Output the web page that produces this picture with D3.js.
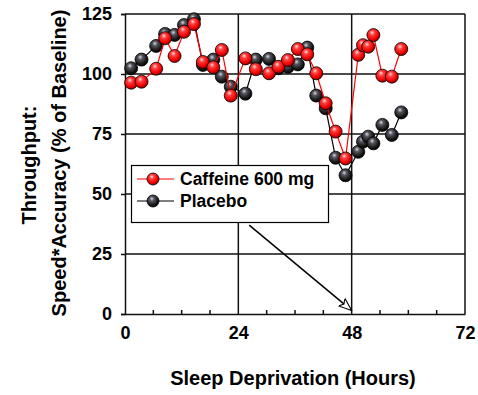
<!DOCTYPE html>
<html>
<head>
<meta charset="utf-8">
<script src="https://cdnjs.cloudflare.com/ajax/libs/d3/7.8.5/d3.min.js"></script>
<style>
  body { margin: 0; background: #fff; }
  svg text { font-family: "Liberation Sans", Arial, sans-serif; font-weight: bold; fill: #000; }
</style>
</head>
<body>
<svg id="chart" width="478" height="395"></svg>
<script>
// hours of sleep deprivation at each test session
const hours = [1.3, 3.5, 6.6, 8.5, 10.5, 12.5, 14.6, 16.5, 18.7, 20.5, 22.4,
  25.5, 27.7, 30.5, 32.5, 34.5, 36.6, 38.6, 40.5, 42.5, 44.6, 46.7,
  49.4, 50.4, 51.5, 52.6, 54.5, 56.5, 58.5];
const caffeine = [96.4, 96.8, 102.2, 114.9, 107.5, 117.6, 120.8, 105, 102.8, 110, 91,
  106.5, 102, 100.3, 103, 105.8, 110.4, 108.2, 100.3, 87.8, 76, 64.8,
  108, 112, 111.4, 116.2, 99.3, 98.9, 110.4];
const placebo = [102.4, 106, 111.7, 116.7, 116.3, 120.4, 122.8, 103.8, 106, 98.9, 94.7,
  91.8, 106, 106.3, 102.4, 103, 104, 111, 91, 85.7, 65.1, 57.8,
  67.6, 71.8, 73.9, 71.1, 78.8, 74.6, 84];
const seriesNames = ['Caffeine 600 mg', 'Placebo'];
const xTicks = [0, 24, 48, 72];
const xMinorTicks = [6, 12, 18, 30, 36, 42, 54, 60, 66];
const yTicks = [0, 25, 50, 75, 100, 125];
const xTitle = 'Sleep Deprivation (Hours)';
const yTitle = ['Throughput:', 'Speed*Accuracy (% of Baseline)'];
const arrowFrom = [26.3, 37];
const arrowTo = [48, 1.5];

const ThroughputChart = class {
  static X_RANGE = [125, 465];
  static Y_RANGE = [314, 14];

  constructor(id) {
    this.svg = d3.select(`#${id}`);
    this.x = d3.scaleLinear().domain([0, 72]).range(this.constructor.X_RANGE);
    this.y = d3.scaleLinear().domain([0, 125]).range(this.constructor.Y_RANGE);
  }

  drawDefs() {
    const defs = this.svg.append('defs');
    const balls = [
      {id: 'ball-red', stops: ['#ffe0e0', '#ff4040', '#f00000', '#900000']},
      {id: 'ball-black', stops: ['#d8d8e8', '#55555e', '#1a1a1a', '#000000']},
    ];
    balls.forEach((ball) => {
      const g = defs.append('radialGradient')
        .attr('id', ball.id)
        .attr('cx', '42%').attr('cy', '38%').attr('r', '62%')
        .attr('fx', '40%').attr('fy', '30%');
      [0, 0.3, 0.75, 1].forEach((o, i) => {
        g.append('stop').attr('offset', o).attr('stop-color', ball.stops[i]);
      });
    });

    defs.append('marker')
      .attr('id', 'open-arrow')
      .attr('viewBox', '0 0 14 12')
      .attr('refX', 13).attr('refY', 6)
      .attr('markerWidth', 14).attr('markerHeight', 12)
      .attr('markerUnits', 'userSpaceOnUse')
      .attr('orient', 'auto')
      .append('path')
      .attr('d', 'M0,1 L13,6 L0,11 L3,6 Z')
      .attr('fill', '#fff')
      .attr('stroke', '#000')
      .attr('stroke-width', 1.1);
  }

  drawGrid() {
    const [x0, x1] = this.constructor.X_RANGE;
    const [y0, y1] = this.constructor.Y_RANGE;
    const grid = this.svg.append('g').attr('stroke', '#111').attr('stroke-width', 1.5);

    grid.selectAll('line.h')
      .data(yTicks.slice(1))
      .join('line')
      .attr('x1', x0).attr('x2', x1)
      .attr('y1', (d) => this.y(d)).attr('y2', (d) => this.y(d));

    grid.selectAll('line.v')
      .data(xTicks.slice(1))
      .join('line')
      .attr('x1', (d) => this.x(d)).attr('x2', (d) => this.x(d))
      .attr('y1', y0).attr('y2', y1);
  }

  drawAxes() {
    const xAxis = d3.axisBottom(this.x).tickValues(xTicks).tickSize(0).tickPadding(12);
    const gx = this.svg.append('g')
      .attr('transform', `translate(0,${this.constructor.Y_RANGE[0]})`)
      .call(xAxis);
    gx.select('.domain').attr('stroke', '#111').attr('stroke-width', 1.5);
    gx.selectAll('text').attr('font-size', 18).attr('fill', '#000');

    gx.selectAll('line.minor')
      .data(xMinorTicks)
      .join('line')
      .attr('class', 'minor')
      .attr('x1', (d) => this.x(d)).attr('x2', (d) => this.x(d))
      .attr('y1', 0).attr('y2', -4)
      .attr('stroke', '#111').attr('stroke-width', 1.5);

    const yAxis = d3.axisLeft(this.y).tickValues(yTicks).tickSize(4).tickPadding(9);
    const gy = this.svg.append('g')
      .attr('transform', `translate(${this.constructor.X_RANGE[0]},0)`)
      .call(yAxis);
    gy.select('.domain').attr('stroke', '#111').attr('stroke-width', 1.5);
    gy.selectAll('.tick line').attr('stroke', '#111').attr('stroke-width', 1.5);
    gy.selectAll('text').attr('font-size', 18).attr('fill', '#000');

    this.svg.append('text')
      .attr('x', 293).attr('y', 385)
      .attr('text-anchor', 'middle')
      .attr('font-size', 20)
      .text(xTitle);

    const yPos = [{x: 36, y: 165}, {x: 66, y: 163}];
    yTitle.forEach((title, i) => {
      this.svg.append('text')
        .attr('transform', `translate(${yPos[i].x},${yPos[i].y}) rotate(-90)`)
        .attr('text-anchor', 'middle')
        .attr('font-size', 20)
        .text(title);
    });
  }

  drawArrow() {
    this.svg.append('line')
      .attr('x1', this.x(arrowFrom[0])).attr('y1', this.y(arrowFrom[1]))
      .attr('x2', this.x(arrowTo[0])).attr('y2', this.y(arrowTo[1]))
      .attr('stroke', '#000').attr('stroke-width', 1.5)
      .attr('marker-end', 'url(#open-arrow)');
  }

  drawSeries(values, color, fill) {
    const points = hours.map((h, i) => ({x: this.x(h), y: this.y(values[i])}));
    const line = d3.line().x((d) => d.x).y((d) => d.y);

    this.svg.append('path')
      .attr('d', line(points))
      .attr('fill', 'none')
      .attr('stroke', color)
      .attr('stroke-width', 1.2);

    this.svg.append('g')
      .selectAll('circle')
      .data(points)
      .join('circle')
      .attr('cx', (d) => d.x).attr('cy', (d) => d.y)
      .attr('r', 6.5)
      .attr('fill', `url(#${fill})`)
      .attr('stroke', '#000').attr('stroke-width', 0.8);
  }

  drawLegend() {
    const legend = this.svg.append('g');
    legend.append('rect')
      .attr('x', 131.5).attr('y', 165.5)
      .attr('width', 197).attr('height', 57)
      .attr('fill', '#fff').attr('stroke', '#000').attr('stroke-width', 1.2);

    const entries = [
      {name: seriesNames[0], color: '#ff0000', fill: 'ball-red', y: 179},
      {name: seriesNames[1], color: '#000', fill: 'ball-black', y: 201},
    ];
    entries.forEach((e) => {
      legend.append('line')
        .attr('x1', 137).attr('x2', 174)
        .attr('y1', e.y).attr('y2', e.y)
        .attr('stroke', e.color).attr('stroke-width', 1.2);
      legend.append('circle')
        .attr('cx', 153).attr('cy', e.y).attr('r', 6)
        .attr('fill', `url(#${e.fill})`)
        .attr('stroke', '#000').attr('stroke-width', 0.8);
      legend.append('text')
        .attr('x', 180).attr('y', e.y + 6)
        .attr('font-size', 17.5)
        .text(e.name);
    });
  }
};

const chart = new ThroughputChart('chart');
chart.drawDefs();
chart.drawGrid();
chart.drawAxes();
chart.drawArrow();
chart.drawSeries(placebo, '#000', 'ball-black');
chart.drawSeries(caffeine, '#ff0000', 'ball-red');
chart.drawLegend();
</script>
</body>
</html>
